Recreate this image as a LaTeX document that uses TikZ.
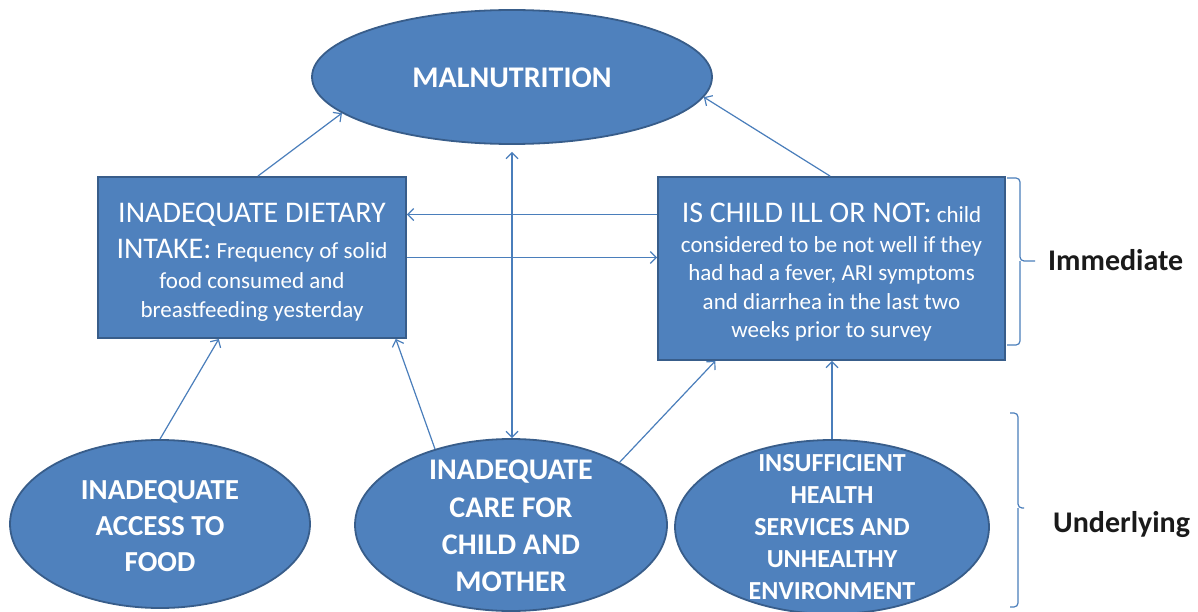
\documentclass[tikz,border=0pt]{standalone}
\usepackage{fontspec}
\setmainfont{Carlito}
\usetikzlibrary{shapes.geometric,arrows.meta,calc}
\definecolor{boxfill}{HTML}{4F81BD}
\definecolor{boxline}{HTML}{385D8A}
\definecolor{conn}{HTML}{4A7EBB}
\definecolor{lbl}{HTML}{1A1A1A}
\begin{document}
\begin{tikzpicture}[x=1pt,y=-1pt,
  blob/.style={ellipse, fill=boxfill, draw=boxline, line width=1.8pt, inner sep=0pt},
  panel/.style={rectangle, fill=boxfill, draw=boxline, line width=1.8pt, inner sep=0pt},
  wtext/.style={text=white, align=center, inner sep=0pt},
  arr/.style={draw=conn, line width=1.2pt, -{Straight Barb[length=6pt,width=12pt]}},
  darr/.style={draw=conn, line width=1.2pt, {Straight Barb[length=6pt,width=12pt]}-{Straight Barb[length=6pt,width=12pt]}},
  brk/.style={draw=conn, line width=1.2pt, rounded corners=4pt},
  side/.style={text=lbl, font=\fontsize{30}{36}\selectfont\bfseries, inner sep=0pt, anchor=base west}]

\fill[white] (0,0) rectangle (1198,612);
\useasboundingbox (0,0) rectangle (1198,612);

% top ellipse
\node[blob, minimum width=400pt, minimum height=134pt] (mal) at (512,77) {};
\node[wtext, anchor=base, font=\fontsize{30}{36}\selectfont\bfseries] (malT) at (512,88) {MALNUTRITION};

% boxes
\node[panel, minimum width=308pt, minimum height=161pt] (lbox) at (252,257.5) {};
\node[wtext, font=\fontsize{23}{28.5}\selectfont] (lboxT) at (252,262) {{\fontsize{30}{30}\selectfont INADEQUATE DIETARY}\\[7.5pt]{\fontsize{30}{30}\selectfont INTAKE:} Frequency of solid\\[1.5pt]food consumed and\\breastfeeding yesterday};

\node[panel, minimum width=347pt, minimum height=183pt] (rbox) at (831.5,268.5) {};
\node[wtext, font=\fontsize{23}{28.5}\selectfont] (rboxT) at (831.5,272) {{\fontsize{30}{30}\selectfont IS CHILD ILL OR NOT:} child\\[1.5pt]considered to be not well if they\\had had a fever, ARI symptoms\\and diarrhea in the last two\\weeks prior to survey};

% bottom ellipses
\node[blob, minimum width=300pt, minimum height=168pt] (acc) at (160,524) {};
\node[wtext, font=\fontsize{29}{36}\selectfont\bfseries] (accT) at (160,526) {INADEQUATE\\ACCESS TO\\FOOD};

\node[blob, minimum width=312pt, minimum height=172pt] (care) at (511,525) {};
\node[wtext, font=\fontsize{30}{37.3}\selectfont\bfseries] (careT) at (511,526) {INADEQUATE\\CARE FOR\\CHILD AND\\MOTHER};

\node[blob, minimum width=314pt, minimum height=174pt] (hlth) at (832,527) {};
\node[wtext, font=\fontsize{26}{32}\selectfont\bfseries] (hlthT) at (832,527.5) {INSUFFICIENT\\HEALTH\\SERVICES AND\\UNHEALTHY\\ENVIRONMENT};

% connectors
\draw[arr] ($(lbox.north west)!0.519!(lbox.north east)$) -- (mal.192);
\draw[arr] ($(rbox.north west)!0.496!(rbox.north east)$) -- (mal.354);
\draw[darr, shorten <=7pt] (mal.south) -- (mal.south |- care.north);
\coordinate (l1) at ($(lbox.north east)!0.236!(lbox.south east)$);
\draw[arr] (rbox.west |- l1) -- (l1);
\draw[arr] (lbox.east) -- (rbox.west |- lbox.east);
\draw[arr] (acc.north) -- ($(lbox.south west)!0.393!(lbox.south east)$);
\draw[arr] (care.135) -- ($(lbox.south west)!0.964!(lbox.south east)$);
\draw[arr] (care.30) -- ($(rbox.south west)!0.167!(rbox.south east)$);
\draw[arr] (hlth.north) -- (hlth.north |- rbox.south);

% brackets
\draw[brk] (1007,178) -| (1020,261) -- (1035,261);
\draw[brk] (1020,261) |- (1007,345);
\draw[brk] (1010,413) -| (1018,508) -- (1024,508);
\draw[brk] (1018,508) |- (1010,607);

\node[side] (imm) at (1048,270) {Immediate};
\node[side] (und) at (1053,532) {Underlying};
\end{tikzpicture}
\end{document}
